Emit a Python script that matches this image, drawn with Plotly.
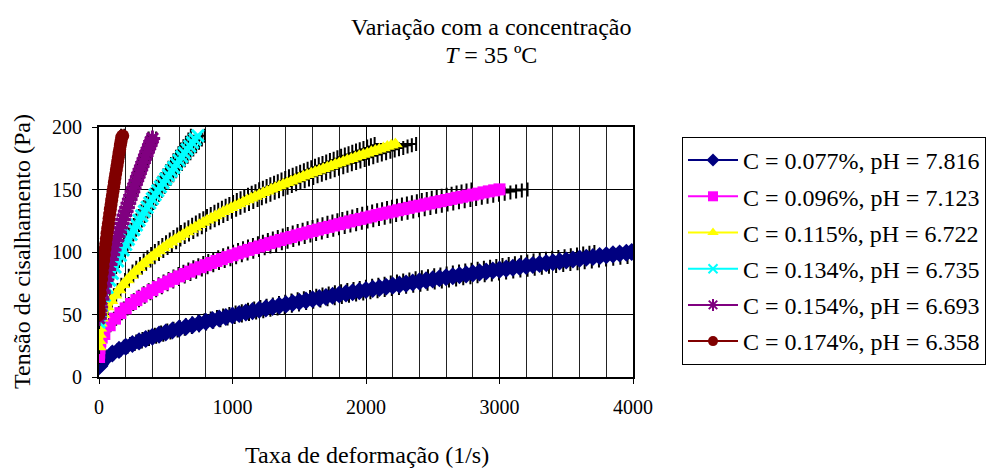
import plotly.graph_objects as go

# ---------------- data ----------------
series_names = [
    "C = 0.077%, pH = 7.816",
    "C = 0.096%, pH = 7.123",
    "C = 0.115%, pH = 6.722",
    "C = 0.134%, pH = 6.735",
    "C = 0.154%, pH = 6.693",
    "C = 0.174%, pH = 6.358",
]

blue_x = [1, 3, 6, 10, 20, 30, 40, 50, 100, 150, 200, 250, 300, 350, 400, 450, 500, 550, 600, 650,
          700, 750, 800, 850, 900, 950, 1000, 1050, 1100, 1150, 1200, 1250, 1300, 1350, 1400, 1450,
          1500, 1550, 1600, 1650, 1700, 1750, 1800, 1850, 1900, 1950, 2000, 2050, 2100, 2150, 2200,
          2250, 2300, 2350, 2400, 2450, 2500, 2550, 2600, 2650, 2700, 2750, 2800, 2850, 2900, 2950,
          3000, 3050, 3100, 3150, 3200, 3250, 3300, 3350, 3400, 3450, 3500, 3550, 3600, 3650, 3700,
          3750, 3800, 3850, 3900, 3950, 3990]
blue_y = [8.6, 9.5, 10.2, 10.9, 12.3, 13.4, 14.4, 15.3, 18.8, 21.7, 24.2, 26.4, 28.5, 30.4, 32.2, 33.9,
          35.6, 37.2, 38.7, 40.1, 41.5, 42.9, 44.2, 45.5, 46.8, 48.0, 49.2, 50.4, 51.6, 52.7, 53.8,
          54.9, 56.0, 57.1, 58.1, 59.2, 60.2, 61.2, 62.2, 63.1, 64.0, 65.0, 66.0, 66.9, 67.8, 68.7,
          69.6, 70.5, 71.3, 72.2, 73.1, 73.9, 74.7, 75.6, 76.5, 77.3, 78.1, 79.0, 79.8, 80.6, 81.4,
          82.1, 82.9, 83.7, 84.4, 85.2, 85.9, 86.7, 87.4, 88.2, 88.9, 89.6, 90.4, 91.1, 91.8, 92.5,
          93.2, 94.0, 94.7, 95.4, 96.0, 96.7, 97.4, 98.1, 98.8, 99.4, 100.0]

pink_x = [0.5, 1.5, 3, 6, 10, 20, 40, 80, 120, 160, 200, 240, 280, 320, 360, 400, 440, 480, 520, 560,
          600, 640, 680, 720, 760, 800, 840, 880, 920, 960, 1000, 1040, 1080, 1120, 1160, 1200, 1240,
          1280, 1320, 1360, 1400, 1440, 1480, 1520, 1560, 1600, 1640, 1680, 1720, 1760, 1800, 1840,
          1880, 1920, 1960, 2000, 2040, 2080, 2120, 2160, 2200, 2240, 2280, 2320, 2360, 2400, 2440,
          2480, 2520, 2560, 2600, 2640, 2680, 2720, 2760, 2800, 2840, 2880, 2920, 2960, 3000]
pink_y = [16, 19.5, 23, 26, 28.5, 31.5, 34.4, 41.4, 46.7, 51.1, 54.9, 58.4, 61.5, 64.3, 67.0, 69.5,
          71.9, 74.2, 76.4, 78.5, 80.5, 82.4, 84.3, 86.1, 87.8, 89.5, 91.2, 92.8, 94.3, 95.9, 97.4,
          98.9, 100.3, 101.7, 103.1, 104.4, 105.7, 107.1, 108.3, 109.6, 110.9, 112.0, 113.3, 114.5,
          115.6, 116.8, 117.9, 119.1, 120.1, 121.2, 122.3, 123.4, 124.5, 125.5, 126.5, 127.5, 128.5,
          129.6, 130.6, 131.5, 132.4, 133.4, 134.3, 135.3, 136.3, 137.1, 138.1, 138.9, 139.8, 140.7,
          141.6, 142.5, 143.4, 144.2, 145.1, 145.9, 146.7, 147.7, 148.5, 149.3, 150.1]

yellow_x = [0.5, 1.5, 3, 6, 10, 18, 30, 60, 90, 120, 150, 180, 210, 240, 270, 300, 330, 360, 390, 420,
            450, 480, 510, 540, 570, 600, 630, 660, 690, 720, 750, 780, 810, 840, 870, 900, 930, 960,
            990, 1020, 1050, 1080, 1110, 1140, 1170, 1200, 1230, 1260, 1290, 1320, 1350, 1380, 1410,
            1440, 1470, 1500, 1530, 1560, 1590, 1620, 1650, 1680, 1710, 1740, 1770, 1800, 1830, 1860,
            1890, 1920, 1950, 1980, 2010, 2040, 2070, 2100, 2130, 2160, 2190, 2220]
yellow_y = [24, 29, 34, 39, 43, 47, 50, 56, 61, 65.5, 69.6, 73.8, 77.6, 81.1, 84.4, 87.5, 90.4, 93.2,
            95.9, 98.4, 100.9, 103.3, 105.6, 107.8, 110.0, 112.1, 114.1, 116.1, 118.1, 119.9, 121.8,
            123.6, 125.5, 127.1, 128.8, 130.5, 132.2, 133.9, 135.4, 137.0, 138.5, 140.0, 141.6, 143.0,
            144.5, 145.9, 147.4, 148.7, 150.2, 151.4, 152.9, 154.2, 155.5, 156.7, 158.0, 159.3, 160.6,
            161.8, 163.1, 164.2, 165.5, 166.6, 167.8, 169.0, 170.2, 171.3, 172.5, 173.6, 174.7, 175.9,
            177.0, 178.0, 179.1, 180.2, 181.2, 182.3, 183.3, 184.4, 185.4, 186.4]

cyan_x = [0.5, 2, 5, 10, 20, 40, 60, 80, 100, 120, 140, 160, 180, 200, 220, 240, 260, 280, 300, 320,
          340, 360, 380, 400, 420, 440, 460, 480, 500, 520, 540, 560, 580, 600, 620, 640, 660, 680,
          700, 720, 740]
cyan_y = [44, 47, 50, 52.5, 57.2, 65.1, 71.6, 77.5, 82.9, 88.0, 92.8, 97.3, 101.7, 106.0, 110.1, 114.0,
          117.9, 121.6, 125.3, 128.9, 132.5, 135.8, 139.2, 142.6, 145.8, 149.0, 152.2, 155.4, 158.5,
          161.5, 164.7, 167.5, 170.4, 173.4, 176.3, 179.1, 182.0, 184.6, 187.5, 190.1, 193.0]

purple_x = [0.5, 2, 5, 10, 20, 30, 40, 50, 60, 70, 80, 90, 100, 110, 120, 130, 140, 150, 160, 170, 180,
            190, 200, 210, 220, 230, 240, 250, 260, 270, 280, 290, 300, 310, 320, 330, 340, 350, 360,
            370, 380, 390, 400]
purple_y = [47, 50, 53, 56.1, 62.2, 67.6, 72.6, 77.3, 81.8, 86.0, 90.0, 94.0, 97.9, 101.7, 105.4, 109.0,
            112.5, 116.1, 119.4, 122.8, 126.1, 129.4, 132.6, 135.7, 139.0, 142.2, 145.2, 148.3, 151.3,
            154.2, 157.3, 160.0, 163.1, 165.8, 168.7, 171.6, 174.5, 177.4, 180.0, 182.9, 185.5, 188.4,
            190.9]

red_x = [0.5, 2, 5, 10, 15, 20, 25, 30, 35, 40, 45, 50, 55, 60, 65, 70, 75, 80, 85, 90, 95, 100, 105,
         110, 115, 120, 125, 130, 135, 140, 145, 150, 155, 160, 165, 170, 178]
red_y = [50, 54, 60.1, 66.9, 72.9, 78.5, 83.7, 88.6, 93.3, 97.9, 102.4, 106.6, 110.8, 115.0, 118.9,
         122.8, 126.8, 130.4, 134.3, 137.9, 141.5, 145.1, 148.7, 152.2, 155.7, 159.3, 162.6, 165.9,
         169.2, 172.5, 175.8, 179.1, 182.1, 185.5, 188.5, 191.8, 193.0]

x_error_percent = 7

x_ticks = [0, 1000, 2000, 3000, 4000]
y_ticks = [0, 50, 100, 150, 200]

# ---------------- styling ----------------
colors = ["#000080", "#FF00FF", "#FFFF00", "#00FFFF", "#800080", "#800000"]
symbols = ["diamond", "square", "triangle-up", "x-thin", "asterisk", "circle"]
sizes = [14, 12, 13, 12, 13, 13]
legend_sizes = [10, 10, 10, 9, 10, 10]
line_widths = [7, 7, 7, 6, 6, 8]
line_only = [False, False, False, True, True, False]

xs_all = [blue_x, pink_x, yellow_x, cyan_x, purple_x, red_x]
ys_all = [blue_y, pink_y, yellow_y, cyan_y, purple_y, red_y]

FONT = "Liberation Serif, Times New Roman, serif"


def marker_style(i, size, lw):
    c = colors[i]
    if line_only[i]:
        return dict(symbol=symbols[i], size=size, color=c, line=dict(color=c, width=lw))
    return dict(symbol=symbols[i], size=size, color=c, line=dict(width=0))


fig = go.Figure()
# data traces (thick bands with horizontal error bars)
for i, name in enumerate(series_names):
    c = colors[i]
    fig.add_trace(go.Scatter(
        x=xs_all[i], y=ys_all[i], mode="lines+markers", name=name,
        legendgroup=name, showlegend=False,
        line=dict(color=c, width=line_widths[i]),
        marker=marker_style(i, sizes[i], 3),
        error_x=dict(type="percent", value=x_error_percent, color="black",
                     thickness=2, width=7),
    ))
# legend entries (thin line + marker, as in the reference legend)
for i, name in enumerate(series_names):
    fig.add_trace(go.Scatter(
        x=[None], y=[None], mode="lines+markers", name=name,
        legendgroup=name, showlegend=True,
        line=dict(color=colors[i], width=2),
        marker=marker_style(i, legend_sizes[i], 2),
    ))

W, H = 991, 468
L, R, T, B = 99, 358, 127, 91
PW, PH = W - L - R, H - T - B


def px_x(p):
    return (p - L) / PW


def px_y(p):
    return (H - B - p) / PH


def note(text, x, y, angle=0):
    return dict(text=text, x=px_x(x), y=px_y(y), xref="paper", yref="paper",
                xanchor="center", yanchor="middle", showarrow=False, textangle=angle,
                font=dict(family=FONT, size=24, color="black"))


fig.update_layout(
    width=W, height=H,
    margin=dict(l=L, r=R, t=T, b=B, autoexpand=False),
    paper_bgcolor="white", plot_bgcolor="white",
    font=dict(family=FONT, size=20, color="black"),
    showlegend=True,
    legend=dict(xref="container", yref="container",
                x=682 / W, y=1 - 137 / H, xanchor="left", yanchor="top",
                bordercolor="black", borderwidth=1, bgcolor="white",
                font=dict(family=FONT, size=24, color="black"),
                itemwidth=50, tracegroupgap=2),
    xaxis=dict(range=[0, 4000], tickvals=x_ticks, ticks="outside", ticklen=5,
               tickcolor="black", tickwidth=1, showline=True, linecolor="black",
               linewidth=2, mirror=True, showgrid=True, gridcolor="black",
               gridwidth=1, zeroline=False,
               minor=dict(dtick=200, showgrid=True, gridcolor="#222222", gridwidth=1),
               tickfont=dict(family=FONT, size=20, color="black"),
               ticklabelstandoff=6),
    yaxis=dict(range=[0, 200], tickvals=y_ticks, ticks="outside", ticklen=5,
               tickcolor="black", tickwidth=1, showline=True, linecolor="black",
               linewidth=2, mirror=True, showgrid=True, gridcolor="black",
               gridwidth=1, zeroline=False,
               tickfont=dict(family=FONT, size=20, color="black"),
               ticklabelstandoff=6),
    annotations=[
        note("Variação com a concentração", 491, 27),
        note("<i>T</i> = 35 ºC", 491, 55),
        note("Tensão de cisalhamento (Pa)", 22, 252, -90),
        note("Taxa de deformação (1/s)", 367, 455),
    ],
)

fig.write_html("out.html")
